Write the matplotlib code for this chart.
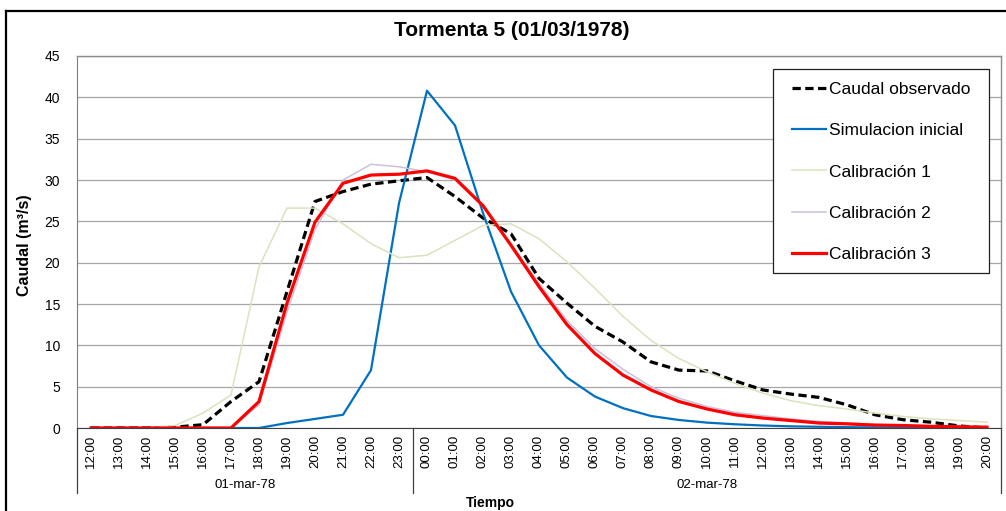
import matplotlib
matplotlib.use("Agg")
import matplotlib.pyplot as plt
from matplotlib.lines import Line2D
from matplotlib.patches import Rectangle
import matplotlib.transforms as mtransforms

plt.rcParams['font.family'] = ['Liberation Sans', 'DejaVu Sans']

hours_day1 = ["12:00", "13:00", "14:00", "15:00", "16:00", "17:00", "18:00",
              "19:00", "20:00", "21:00", "22:00", "23:00"]
hours_day2 = ["00:00", "01:00", "02:00", "03:00", "04:00", "05:00", "06:00",
              "07:00", "08:00", "09:00", "10:00", "11:00", "12:00", "13:00",
              "14:00", "15:00", "16:00", "17:00", "18:00", "19:00", "20:00"]
days = ["01-mar-78", "02-mar-78"]
tick_labels = hours_day1 + hours_day2

observado = [0, 0, 0, 0.1, 0.4, 3.2, 5.6, 16.5, 27.4, 28.6, 29.5, 29.9,
             30.3, 28.0, 25.4, 23.5, 18.1, 15.1, 12.3, 10.4, 8.0, 7.0, 6.9, 5.7,
             4.6, 4.1, 3.7, 2.8, 1.6, 1.0, 0.7, 0.25, 0.0]
sim_inicial = [0, 0, 0, 0, 0, 0, 0, 0.6, 1.1, 1.6, 7.0, 27.2,
               40.8, 36.6, 26.0, 16.5, 10.0, 6.1, 3.8, 2.4, 1.45, 0.97, 0.65, 0.45,
               0.3, 0.2, 0.15, 0.1, 0.07, 0.05, 0.03, 0.02, 0.01]
calib1 = [0, 0, 0, 0.3, 1.8, 4.0, 19.5, 26.6, 26.6, 24.7, 22.3, 20.6,
          20.9, 22.7, 24.5, 24.7, 22.9, 20.1, 16.9, 13.5, 10.6, 8.4, 6.8, 5.4,
          4.2, 3.3, 2.7, 2.3, 1.8, 1.4, 1.1, 0.9, 0.7]
calib2 = [0, 0, 0, 0, 0, 0, 2.8, 14.0, 24.0, 30.0, 31.9, 31.6,
          31.0, 30.0, 26.8, 22.3, 17.5, 13.0, 9.6, 7.1, 5.0, 3.6, 2.6, 1.9,
          1.5, 1.1, 0.8, 0.6, 0.45, 0.35, 0.25, 0.2, 0.15]
calib3 = [0, 0, 0, 0, 0, 0, 3.2, 15.1, 24.9, 29.6, 30.6, 30.7,
          31.1, 30.2, 26.9, 22.1, 17.1, 12.5, 9.0, 6.4, 4.6, 3.2, 2.3, 1.6,
          1.2, 0.9, 0.6, 0.5, 0.35, 0.3, 0.2, 0.15, 0.1]

W, H = 1006, 511
fig = plt.figure(figsize=(W / 100, H / 100), dpi=100)

def fx(px):
    return px / W

def fy(py):
    return 1 - py / H

ax_l, ax_r, ax_t, ax_b = 77, 1001, 56, 428
ax = fig.add_axes([fx(ax_l), fy(ax_b), fx(ax_r - ax_l), (ax_b - ax_t) / H])

x = list(range(len(tick_labels)))
ax.plot(x, observado, color='black', lw=2.3, linestyle=(0, (2.6, 1.4)),
        label='Caudal observado', zorder=2.1)
ax.plot(x, sim_inicial, color='#0070c0', lw=1.6, label='Simulacion inicial', zorder=2.2)
ax.plot(x, calib1, color='#d7e4bd', lw=1.1, label='Calibración 1', zorder=2.3)
ax.plot(x, calib2, color='#ccc0da', lw=1.1, label='Calibración 2', zorder=2.4)
ax.plot(x, calib3, color='#ff0000', lw=2.3, label='Calibración 3', zorder=2.5)

ax.set_xlim(-0.5, len(x) - 0.5)
ax.set_ylim(0, 45)
ax.set_yticks(range(0, 46, 5))
ax.tick_params(axis='y', length=0, pad=12, labelsize=10)
ax.set_xticks(x)
ax.set_xticklabels(tick_labels, rotation=90, fontsize=9.5)
ax.tick_params(axis='x', length=0, pad=5)
ax.yaxis.grid(True, color='#a6a6a6', lw=0.9)
ax.set_axisbelow(True)
for side in ['top', 'right']:
    ax.spines[side].set_color('#8c8c8c')
    ax.spines[side].set_linewidth(1.0)
ax.spines['left'].set_color('#7f7f7f')
ax.spines['bottom'].set_color('#404040')

# group separators and day labels
trans = mtransforms.blended_transform_factory(ax.transData, ax.transAxes)
sep_depth = -(493 - ax_b) / (ax_b - ax_t)
bounds = [-0.5, len(hours_day1) - 0.5, len(x) - 0.5]
for b in bounds:
    ax.add_line(Line2D([b, b], [0, sep_depth], transform=trans, color='#404040',
                       lw=0.9, clip_on=False))
day_y = -(485 - ax_b) / (ax_b - ax_t)
for i, d in enumerate(days):
    ax.text((bounds[i] + bounds[i + 1]) / 2, day_y, d, transform=trans,
            ha='center', va='center', fontsize=9.5)

# titles
fig.text(fx(512), fy(30), 'Tormenta 5 (01/03/1978)', ha='center', va='center',
         fontsize=15, fontweight='bold')
fig.text(fx(25), fy(245), 'Caudal (m³/s)', ha='center', va='center', rotation=90,
         fontsize=11.5, fontweight='bold')
fig.text(fx(490), fy(510), 'Tiempo', ha='center', va='bottom',
         fontsize=10, fontweight='bold')

# outer chart border
fig.add_artist(Line2D([fx(6), fx(W + 5)], [fy(11), fy(11)], color='black', lw=1.6,
                      transform=fig.transFigure))
fig.add_artist(Line2D([fx(6), fx(6)], [fy(11), fy(H + 5)], color='black', lw=1.6,
                      transform=fig.transFigure))

# legend frame drawn separately for exact padding
ax.add_patch(Rectangle((fx(773), fy(273)), fx(989 - 773), (273 - 69) / H,
                       transform=fig.transFigure, facecolor='white',
                       edgecolor='#202020', lw=0.9, clip_on=False, zorder=4))
leg = ax.legend(loc='upper left', bbox_to_anchor=(fx(792), fy(82)),
                bbox_transform=fig.transFigure, fontsize=12.5, frameon=False,
                handlelength=1.95, handletextpad=0.17, labelspacing=1.5,
                borderpad=0, borderaxespad=0)
leg.set_zorder(5)

fig.savefig('out.png', dpi=100)
